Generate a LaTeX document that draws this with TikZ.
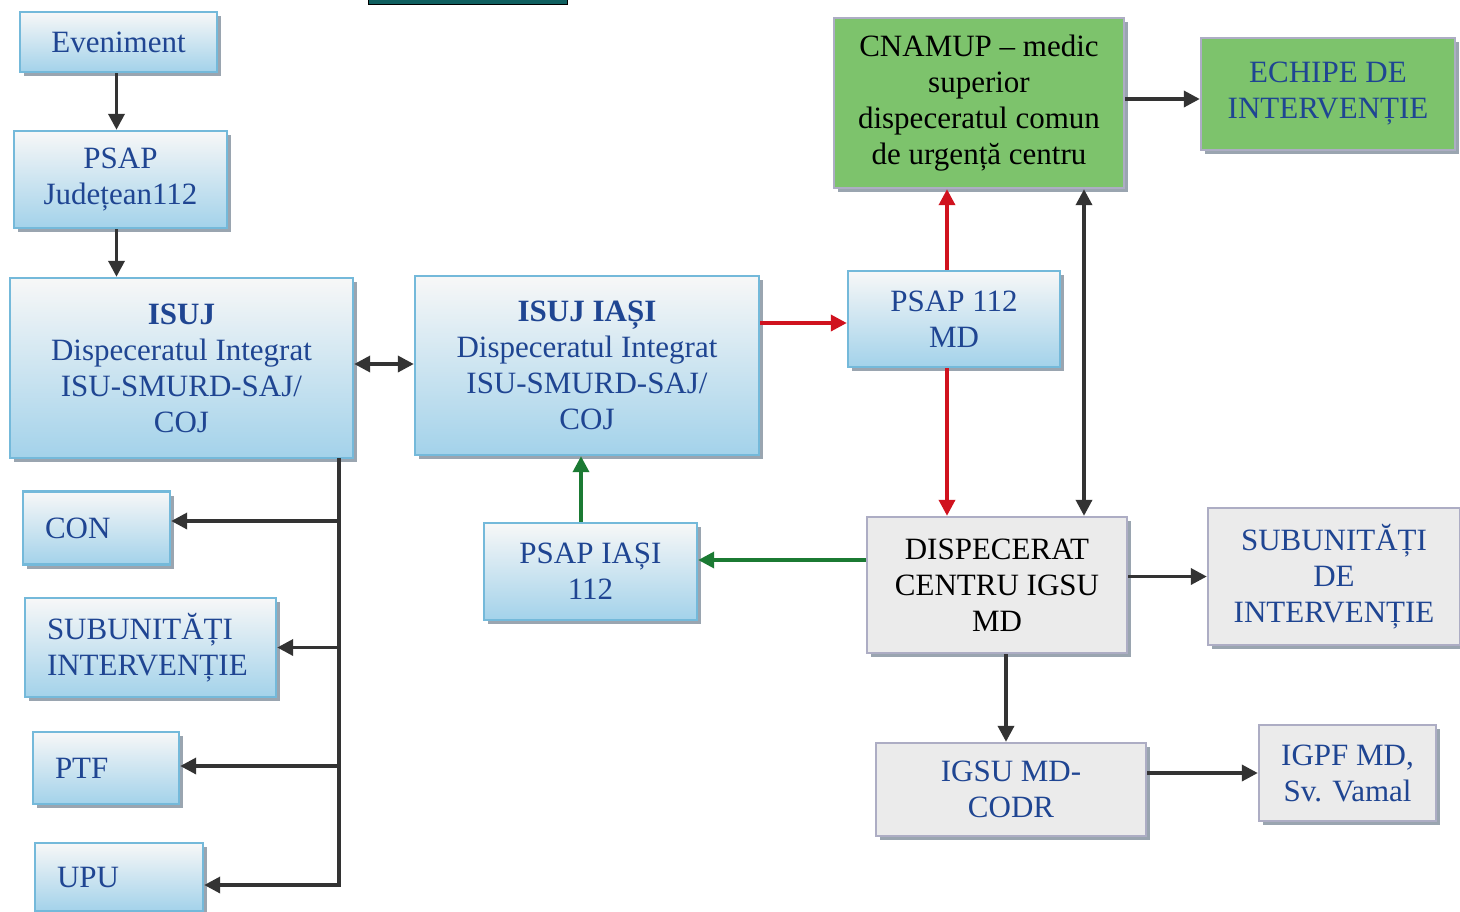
\documentclass[tikz,border=0pt]{standalone}
\usepackage{fontspec}
\setmainfont{Liberation Serif}
\usetikzlibrary{arrows.meta,shadows}

\definecolor{txtblue}{HTML}{1F4592}
\definecolor{boxline}{HTML}{74B9DA}
\definecolor{boxlow}{HTML}{A3D2EA}
\definecolor{greenfill}{HTML}{7DC36C}
\definecolor{grayfill}{HTML}{EBEBEB}
\definecolor{grayline}{HTML}{ADADC4}
\definecolor{shadowc}{HTML}{9AA5B0}
\definecolor{arrowc}{HTML}{333333}
\definecolor{redarrow}{HTML}{D0121E}
\definecolor{greenarrow}{HTML}{1B7A33}
\definecolor{tealbar}{HTML}{0F5F5F}

\tikzset{
  sz/.style 2 args={minimum width=#1, minimum height=#2},
  base/.style={rectangle, inner sep=2pt, align=center,
    font=\fontsize{15.5}{18}\selectfont,
    drop shadow={shadow xshift=2pt, shadow yshift=-2pt, fill=shadowc, opacity=1}},
  bluebox/.style={base, draw=boxline, line width=1.2pt,
    top color=white!94!gray, bottom color=boxlow, text=txtblue},
  leftbox/.style={bluebox, align=left, inner xsep=11pt},
  greenbox/.style={base, draw=grayline, line width=1.2pt, fill=greenfill},
  graybox/.style={base, draw=grayline, line width=1.2pt, fill=grayfill},
  tip/.style={-{Triangle[length=8pt,width=8pt]}},
  arr/.style={tip, line width=1.8pt, draw=arrowc, color=arrowc},
  twoway/.style={arr, {Triangle[length=8pt,width=8pt]}-{Triangle[length=8pt,width=8pt]}},
  redarr/.style={tip, line width=1.8pt, draw=redarrow, color=redarrow},
  greenarr/.style={tip, line width=1.8pt, draw=greenarrow, color=greenarrow}
}

\begin{document}
\begin{tikzpicture}[x=0.5pt, y=-0.5pt]
  \useasboundingbox (0,0) rectangle (1460,911);
  \fill[tealbar, draw=black] (368,-4) rectangle (567,4);

  % left column
  \node[bluebox, sz={98.5pt}{30pt}] (ev) at (118.5,42) {Eveniment};
  \node[bluebox, sz={106.5pt}{48.5pt}] (psapj) at (120.5,179.5) {PSAP\\Județean112};
  \node[bluebox, sz={171.5pt}{90pt}] (isuj) at (181.5,368)
    {\textbf{ISUJ}\\Dispeceratul Integrat\\ISU-SMURD-SAJ/\\COJ};
  \node[leftbox, text width=51.5pt, minimum height=36.5pt] (con) at (96.5,528) {CON};
  \node[leftbox, text width=103.5pt, minimum height=49.5pt] (subl) at (150.5,647.5) {SUBUNITĂȚI\\INTERVENȚIE};
  \node[leftbox, text width=51pt, minimum height=36pt] (ptf) at (106,768) {PTF};
  \node[leftbox, text width=62pt, minimum height=34pt] (upu) at (119,877) {UPU};

  % middle
  \node[bluebox, sz={172pt}{89.5pt}] (isujis) at (587,365.5)
    {\textbf{ISUJ IAȘI}\\Dispeceratul Integrat\\ISU-SMURD-SAJ/\\COJ};
  \node[bluebox, sz={106.5pt}{48.5pt}] (psapis) at (590.5,571.5) {PSAP IAȘI\\112};
  \node[bluebox, sz={106pt}{48pt}] (psapmd) at (954,319) {PSAP 112\\MD};

  % right
  \node[greenbox, sz={145pt}{85pt}] (cnamup) at (979,103)
    {CNAMUP – medic\\superior\\dispeceratul comun\\de urgență centru};
  \node[greenbox, text=txtblue, sz={127pt}{56pt}] (echipe) at (1328,94) {ECHIPE DE\\INTERVENȚIE};
  \node[graybox, sz={130pt}{68pt}] (disp) at (997,585) {DISPECERAT\\CENTRU IGSU\\MD};
  \node[graybox, text=txtblue, sz={126pt}{68.5pt}] (subr) at (1334,576.5) {SUBUNITĂȚI\\DE\\INTERVENȚIE};
  \node[graybox, text=txtblue, sz={135pt}{46.5pt}] (igsu) at (1011,789.5) {IGSU MD-\\CODR};
  \node[graybox, text=txtblue, sz={88.5pt}{48pt}] (igpf) at (1347.5,773) {IGPF MD,\\Sv. Vamal};

  % connectors
  \draw[arr] ([xshift=-1pt]ev.south) -- ([xshift=-1pt]ev.south |- psapj.north);
  \draw[arr] ([xshift=-2pt]psapj.south) -- ([xshift=-2pt]psapj.south |- isuj.north);
  \draw[twoway] ([yshift=2pt]isuj.east) -- ([yshift=2pt]isuj.east -| isujis.west);
  \draw[redarr] ([yshift=-2pt]psapmd.west -| isujis.east) -- ([yshift=-2pt]psapmd.west);
  \draw[redarr] ([xshift=-3.5pt]psapmd.north) -- ([xshift=-3.5pt]psapmd.north |- cnamup.south);
  \draw[redarr] ([xshift=-3.5pt]psapmd.south) -- ([xshift=-3.5pt]psapmd.south |- disp.north);
  \coordinate (link) at (1084,0);
  \draw[twoway] (cnamup.south -| link) -- (disp.north -| link);
  \draw[arr] ([yshift=2pt]cnamup.east) -- ([yshift=2pt]cnamup.east -| echipe.west);
  \draw[greenarr] ([yshift=5.75pt]psapis.east -| disp.west) -- ([yshift=5.75pt]psapis.east);
  \draw[greenarr] ([xshift=-4.75pt]psapis.north) -- ([xshift=-4.75pt]psapis.north |- isujis.south);
  \draw[arr] (subr.west -| disp.east) -- (subr.west);
  \draw[arr] ([xshift=4.5pt]disp.south) -- ([xshift=4.5pt]disp.south |- igsu.north);
  \draw[arr] (igpf.west -| igsu.east) -- (igpf.west);

  % ISUJ trunk
  \coordinate (trunk) at (339,458);
  \draw[arr] (trunk) |- ([yshift=-4pt]upu.east);
  \draw[arr] ([yshift=3.5pt]trunk |- con.east) -- ([yshift=3.5pt]con.east);
  \draw[arr] (trunk |- subl.east) -- (subl.east);
  \draw[arr] ([yshift=1pt]trunk |- ptf.east) -- ([yshift=1pt]ptf.east);
\end{tikzpicture}
\end{document}
